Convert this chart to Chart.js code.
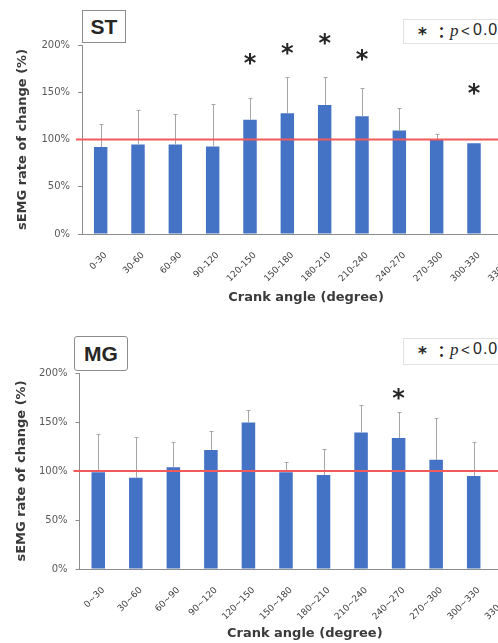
<!DOCTYPE html>
<html>
<head>
<meta charset="utf-8">
<script src="https://cdn.jsdelivr.net/npm/chart.js@4/dist/chart.umd.min.js"></script>
<style>
    body { margin: 0; width: 498px; height: 643px; overflow: hidden; background: #fff; position: relative; }
    canvas { position: absolute; left: 0; }
    #stChart { top: 0; }
    #mgChart { top: 320px; }
    .tag { position: absolute; box-sizing: border-box; border: 1.5px solid #8c8c8c; background: #fff;
           font: bold 21px "Liberation Sans", Arial, sans-serif; color: #262626;
           display: flex; align-items: center; justify-content: center; }
    .sig { position: absolute; box-sizing: border-box; border: 1px solid #e2e2e2; background: #fff;
           color: #262626; white-space: nowrap; width: 130px; }
    .sig span, .sig i { position: absolute; line-height: 1; }
    .sig .star { font: bold 17px "DejaVu Sans", sans-serif; left: 14px; }
    .sig .colon { font: bold 15px "Noto Sans CJK JP", sans-serif; left: 30px; }
    .sig i { font: italic 17px "Liberation Serif", serif; left: 46px; }
    .sig .lt { font: 15px "Liberation Sans", sans-serif; left: 57px; }
    .sig .num { font: 16px "Liberation Sans", sans-serif; letter-spacing: 1px; left: 69px; }
</style>
</head>
<body>
<canvas id="stChart" width="530" height="320"></canvas>
<canvas id="mgChart" width="530" height="323"></canvas>
<div class="tag" style="left:82px; top:10px; width:44px; height:33px;">ST</div>
<div class="tag" style="left:74px; top:336px; width:54px; height:35px; border-radius:3px;">MG</div>
<div class="sig" style="left:403px; top:19px; height:25px;">
    <span class="star" style="top:4px;">*</span><span class="colon" style="top:1px;">：</span><i style="top:1px;">p</i><span class="lt" style="top:2px;">&lt;</span><span class="num" style="top:1px;">0.05</span>
</div>
<div class="sig" style="left:403px; top:338px; height:27px;">
    <span class="star" style="top:4px;">*</span><span class="colon" style="top:1px;">：</span><i style="top:1px;">p</i><span class="lt" style="top:2px;">&lt;</span><span class="num" style="top:1px;">0.05</span>
</div>
<script>
    var stLabels = ["0-30", "30-60", "60-90", "90-120", "120-150", "150-180", "180-210", "210-240", "240-270", "270-300", "300-330", "330-360"];
    var mgLabels = ["0~30", "30~60", "60~90", "90~120", "120~150", "150~180", "180~210", "210~240", "240~270", "270~300", "300~330", "330~360"];

    // mean rate of change (%) and upper SD
    var stValues = [92, 94.7, 94.7, 92.6, 121, 127.7, 136.5, 124.5, 109.5, 100, 96, 96];
    var stSD = [24.5, 36, 32, 45, 23, 38, 29.5, 30.5, 23.5, 5.6, 0, 15];
    var stStars = [null, null, null, null, 185, 196, 206, 189.5, null, null, 153, null];

    var mgValues = [98.8, 93, 103.9, 121.5, 149.5, 98.8, 96, 139.4, 133.7, 111.4, 95, 93.7];
    var mgSD = [39, 42, 26, 19.5, 12.5, 10, 26.5, 27.5, 26, 42.5, 35, 50];
    var mgStars = [null, null, null, null, null, null, null, null, 179, null, null, null];

    var yTickValues = [0, 50, 100, 150, 200];
    var baseline = 100;

    var extras = {
        id: "extras",
        afterDatasetsDraw: function (chart, args, opts) {
            var ctx = chart.ctx;
            var xs = chart.scales.x;
            var ys = chart.scales.y;
            var area = chart.chartArea;
            var meta = chart.getDatasetMeta(0);
            ctx.save();
            // error bars (upper only)
            ctx.strokeStyle = "#a6a6a6";
            ctx.lineWidth = 1;
            opts.sd.forEach(function (e, i) {
                if (!e) return;
                var bar = meta.data[i];
                var top = Math.round(ys.getPixelForValue(opts.values[i] + e)) + 0.5;
                var bx = Math.round(bar.x) + 0.5;
                ctx.beginPath();
                ctx.moveTo(bx, bar.y);
                ctx.lineTo(bx, top);
                ctx.moveTo(bx - 2, top);
                ctx.lineTo(bx + 2, top);
                ctx.stroke();
            });
            // 100% line
            var ry = ys.getPixelForValue(baseline);
            ctx.strokeStyle = "#f25a5a";
            ctx.lineWidth = 2;
            ctx.beginPath();
            ctx.moveTo(area.left - 6, ry);
            ctx.lineTo(area.right, ry);
            ctx.stroke();
            // significance marks, centred on their value
            ctx.fillStyle = "#262626";
            ctx.font = "bold 24px 'DejaVu Sans'";
            ctx.textAlign = "center";
            ctx.textBaseline = "alphabetic";
            var m = ctx.measureText("*");
            var shift = (m.actualBoundingBoxAscent - m.actualBoundingBoxDescent) / 2;
            opts.stars.forEach(function (s, i) {
                if (s == null) return;
                ctx.fillText("*", xs.getPixelForValue(i), ys.getPixelForValue(s) + shift);
            });
            ctx.restore();
        }
    };

    function makeChart(id, labels, values, sd, stars, dims) {
        var ctx = document.getElementById(id).getContext("2d");
        return new Chart(ctx, {
            type: "bar",
            data: {
                labels: labels,
                datasets: [
                    {
                        data: values,
                        backgroundColor: "#4472c4",
                        borderWidth: 0,
                        categoryPercentage: 1,
                        barPercentage: 0.36,
                    },
                ],
            },
            plugins: [extras],
            options: {
                responsive: false,
                animation: false,
                layout: { padding: { top: dims.top, left: 0, right: 0, bottom: 0 } },
                scales: {
                    x: {
                        grid: { display: false },
                        border: { display: true, color: "#8c8c8c" },
                        ticks: {
                            color: "#404040",
                            font: { size: 9, family: "'DejaVu Sans'" },
                            minRotation: 45,
                            maxRotation: 45,
                            autoSkip: false,
                            padding: 8,
                            labelOffset: 5,
                        },
                        title: {
                            display: true,
                            text: "Crank angle (degree)",
                            color: "#3a3a3a",
                            font: { size: 13, weight: "bold", family: "'DejaVu Sans'" },
                            padding: { top: 0, bottom: dims.xTitlePad },
                        },
                        afterFit: function (s) { s.height = dims.xh; },
                    },
                    y: {
                        min: 0,
                        max: 200,
                        afterBuildTicks: function (s) {
                            s.ticks = yTickValues.map(function (v) { return { value: v }; });
                        },
                        ticks: {
                            color: "#595959",
                            font: { size: 10, family: "'DejaVu Sans'" },
                            padding: 8,
                            callback: function (v) { return v + "%"; },
                        },
                        grid: { drawOnChartArea: false, tickLength: 4, color: "#8c8c8c" },
                        border: { color: "#8c8c8c" },
                        title: {
                            display: true,
                            text: "sEMG rate of change (%)",
                            color: "#3a3a3a",
                            font: { size: 13, weight: "bold", family: "'DejaVu Sans'" },
                            padding: { top: dims.yTitlePad, bottom: 0 },
                        },
                        afterFit: function (s) { s.width = dims.yw; },
                    },
                },
                plugins: {
                    legend: { display: false },
                    tooltip: { enabled: false },
                    extras: { values: values, sd: sd, stars: stars },
                },
            },
        });
    }

    makeChart("stChart", stLabels, stValues, stSD, stStars, { top: 45, xh: 86, yw: 82, xTitlePad: 15, yTitlePad: 14.5 });
    makeChart("mgChart", mgLabels, mgValues, mgSD, mgStars, { top: 53, xh: 74, yw: 79.5, xTitlePad: 2, yTitlePad: 14 });
</script>
</body>
</html>
